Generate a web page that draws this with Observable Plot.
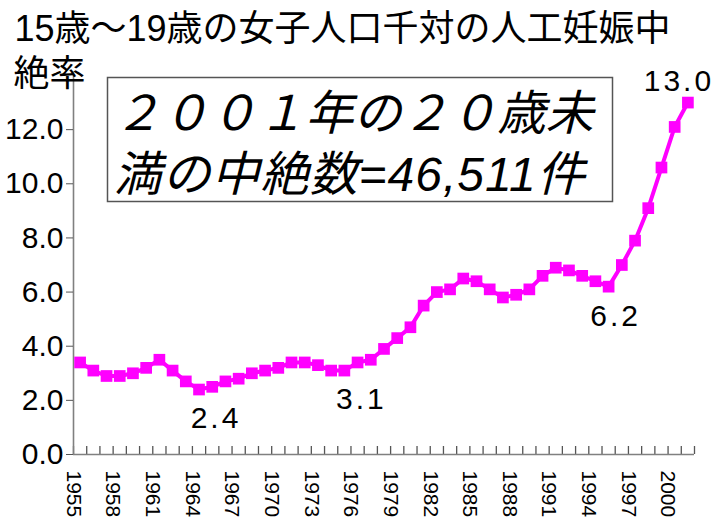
<!DOCTYPE html>
<html><head><meta charset="utf-8">
<script src="https://cdn.jsdelivr.net/npm/d3@7"></script>
<script src="https://cdn.jsdelivr.net/npm/@observablehq/plot@0.6"></script>
<style>body{margin:0;background:#fff} #chart svg{display:block}</style>
</head><body><div id="chart"></div>
<script>
const years = [1955,1956,1957,1958,1959,1960,1961,1962,1963,1964,1965,1966,1967,1968,1969,1970,
  1971,1972,1973,1974,1975,1976,1977,1978,1979,1980,1981,1982,1983,1984,1985,1986,1987,1988,
  1989,1990,1991,1992,1993,1994,1995,1996,1997,1998,1999,2000,2001];
const rates = [3.4,3.1,2.9,2.9,3.0,3.2,3.5,3.1,2.7,2.4,2.5,2.7,2.8,3.0,3.1,3.2,
  3.4,3.4,3.3,3.1,3.1,3.4,3.5,3.9,4.3,4.7,5.5,6.0,6.1,6.5,6.4,6.1,5.8,5.9,
  6.1,6.6,6.9,6.8,6.6,6.4,6.2,7.0,7.9,9.1,10.6,12.1,13.0];
const xTickLabels = ["1955","1958","1961","1964","1967","1970","1973","1976","1979","1982","1985","1988","1991","1994","1997","2000"];
const yTicks = [0,2,4,6,8,10,12];
const titleLines = ["15歳～19歳の女子人口千対の人工妊娠中", "絶率"];
const noteLines = ["２００１年の２０歳未", "満の中絶数=46,511件"];
const lowLabelYears = [1964, 1975];
const midLabelYears = [1995];
const topLabelYears = [2001];

const data = years.map((year, i) => ({year, rate: rates[i]}));
const boundaries = years.map(y => y - 0.5).concat([years[years.length - 1] + 0.5]);
const pick = ys => data.filter(d => ys.includes(d.year));

const W = 724, H = 519, mL = 73, mR = 30, mT = 75, mB = 65;
const latin = "'Liberation Sans', Arial, 'Noto Sans CJK JP', sans-serif";
const cjk = "'Liberation Sans', 'Noto Sans CJK JP', sans-serif";
const magenta = "#ff00ff";

const chart = Plot.plot({
  width: W, height: H,
  marginLeft: mL, marginRight: mR, marginTop: mT, marginBottom: mB,
  style: {background: "#fff", color: "#000"},
  x: {type: "linear", domain: [boundaries[0], boundaries[boundaries.length - 1]], axis: null},
  y: {domain: [0, 14]},
  marks: [
    Plot.frame({insetLeft: 34, insetTop: 2, insetRight: 82, insetBottom: 253, stroke: "#555", strokeWidth: 1.5, fill: "#fff"}),
    Plot.tickX(boundaries, {x: d => d, insetTop: (H - mT - mB) - 8, stroke: "#555", strokeWidth: 1.3}),
    Plot.ruleX([boundaries[0]], {stroke: "#808080", strokeWidth: 1.6}),
    Plot.ruleY([0], {stroke: "#808080", strokeWidth: 1.6}),
    Plot.axisY({ticks: yTicks, tickSize: 7, tickPadding: 3, tickFormat: d => d.toFixed(1),
      fontSize: 30, fontFamily: latin, stroke: "#555", label: null}),
    Plot.text(xTickLabels, {x: d => +d - 0.5, text: d => d, frameAnchor: "bottom", dy: 16,
      rotate: 90, textAnchor: "start", lineAnchor: "middle", fontSize: 21, fontFamily: latin, fill: "#000"}),
    Plot.line(data, {x: "year", y: "rate", stroke: magenta, strokeWidth: 4}),
    Plot.dot(data, {x: "year", y: "rate", symbol: "square", r: 6.6, fill: magenta, stroke: null}),
    Plot.text(pick(lowLabelYears), {x: "year", y: "rate", text: d => d.rate.toFixed(1), dx: 17, dy: 38,
      lineAnchor: "bottom", fontSize: 30, fontFamily: latin, fill: "#000"}),
    Plot.text(pick(midLabelYears), {x: "year", y: "rate", text: d => d.rate.toFixed(1), dx: 7, dy: 39,
      lineAnchor: "bottom", fontSize: 30, fontFamily: latin, fill: "#000"}),
    Plot.text(pick(topLabelYears), {x: "year", y: "rate", text: d => d.rate.toFixed(1), dx: -9, dy: -12,
      lineAnchor: "bottom", fontSize: 30, fontFamily: latin, fill: "#000"}),
    Plot.text([titleLines[0]], {text: d => d, frameAnchor: "top-left", dx: 14 - mL, dy: 40 - mT,
      textAnchor: "start", lineAnchor: "bottom", fontSize: 36, fontFamily: cjk, fill: "#000"}),
    Plot.text([titleLines[1]], {text: d => d, frameAnchor: "top-left", dx: 13 - mL, dy: 85 - mT,
      textAnchor: "start", lineAnchor: "bottom", fontSize: 36, fontFamily: cjk, fill: "#000"}),
    Plot.text([noteLines[0]], {text: d => d, frameAnchor: "top-left", dx: 40, dy: 129 - mT,
      textAnchor: "start", lineAnchor: "bottom", fontSize: 48, fontStyle: "italic", fontFamily: cjk, fill: "#000"}),
    Plot.text([noteLines[1]], {text: d => d, frameAnchor: "top-left", dx: 40, dy: 190 - mT,
      textAnchor: "start", lineAnchor: "bottom", fontSize: 48, fontStyle: "italic", fontFamily: cjk, fill: "#000"})
  ]
});
const valueLabels = new Set(pick([...lowLabelYears, ...midLabelYears, ...topLabelYears]).map(d => d.rate.toFixed(1)));
chart.querySelectorAll("text").forEach(t => {
  if (valueLabels.has(t.textContent)) t.style.letterSpacing = "3px";
  if (t.textContent === noteLines[1]) t.style.letterSpacing = "1px";
});
document.getElementById("chart").appendChild(chart);
</script>
</body></html>
